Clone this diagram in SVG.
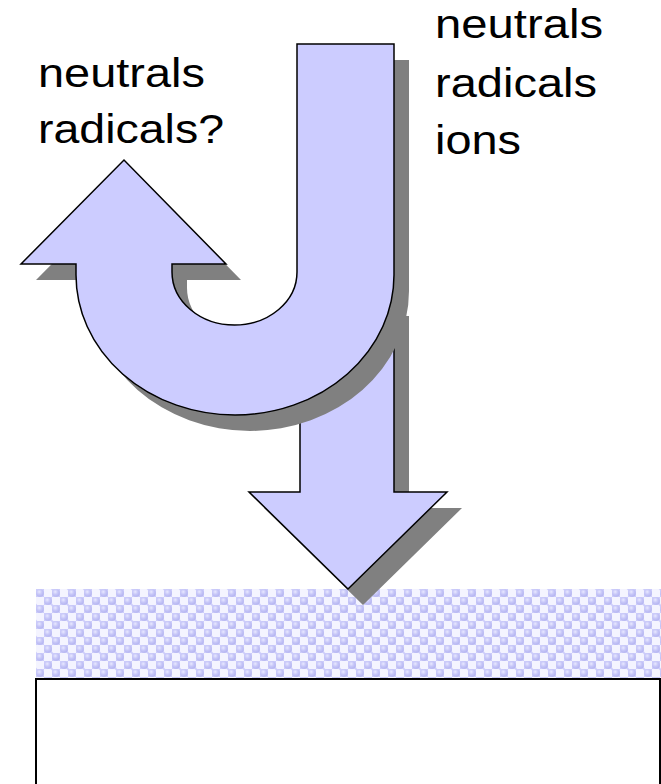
<svg xmlns="http://www.w3.org/2000/svg" width="661" height="784" viewBox="0 0 661 784">
  <defs>
    <style>
      .shape { fill: #ccccff; stroke: #000; stroke-width: 1.5; stroke-linejoin: miter; }
      .shadow { fill: #808080; stroke: none; }
      .label { font-family: "Liberation Sans", Arial, sans-serif; font-size: 41px; fill: #000; }
    </style>
    <radialGradient id="sph" cx="0.4" cy="0.35" r="0.65">
      <stop offset="0" stop-color="#e8e8ff"/>
      <stop offset="0.5" stop-color="#c8c8f8"/>
      <stop offset="1" stop-color="#b4b4f0"/>
    </radialGradient>
    <pattern id="spheres" patternUnits="userSpaceOnUse" x="36" y="589" width="16" height="16">
      <rect width="16" height="16" fill="#f4f4ff"/>
      <rect x="0" y="0" width="8" height="8" fill="#ccccfa"/>
      <rect x="8" y="8" width="8" height="8" fill="#ccccfa"/>
      <circle cx="4" cy="4" r="3.8" fill="url(#sph)"/>
      <circle cx="12" cy="12" r="3.8" fill="url(#sph)"/>
      <circle cx="0" cy="16" r="1.2" fill="#d8d8fc"/>
      <circle cx="16" cy="0" r="1.2" fill="#d8d8fc"/>
    </pattern>
    <path id="downPath" d="M300,300 H394 V492 H447 L348,589 L249,492 H300 Z"/>
    <path id="uPath" d="M297,44 H394 V275 A159,140 0 0 1 76,275 V264 H21 L124,160 L226,264 H172 V272 A62.5,53 0 0 0 297,272 Z"/>
  </defs>

  <g id="surface-band">
    <rect x="36" y="589" width="625" height="90" fill="url(#spheres)"/>
  </g>

  <g id="substrate">
    <rect x="36" y="679" width="624" height="200" fill="#ffffff" stroke="#000" stroke-width="2"/>
  </g>

  <g id="down-arrow">
    <use href="#downPath" class="shadow" transform="translate(15,16)"/>
    <use href="#downPath" class="shape"/>
  </g>

  <g id="u-turn-arrow">
    <use href="#uPath" class="shadow" transform="translate(15,16)"/>
    <use href="#uPath" class="shape"/>
  </g>

  <g id="label-returning">
    <text class="label" x="38" y="87" textLength="167" lengthAdjust="spacingAndGlyphs">neutrals</text>
    <text class="label" x="38" y="143" textLength="186" lengthAdjust="spacingAndGlyphs">radicals?</text>
  </g>

  <g id="label-incoming">
    <text class="label" x="435" y="38" textLength="168" lengthAdjust="spacingAndGlyphs">neutrals</text>
    <text class="label" x="435" y="97" textLength="162" lengthAdjust="spacingAndGlyphs">radicals</text>
    <text class="label" x="435" y="154" textLength="86" lengthAdjust="spacingAndGlyphs">ions</text>
  </g>
</svg>
